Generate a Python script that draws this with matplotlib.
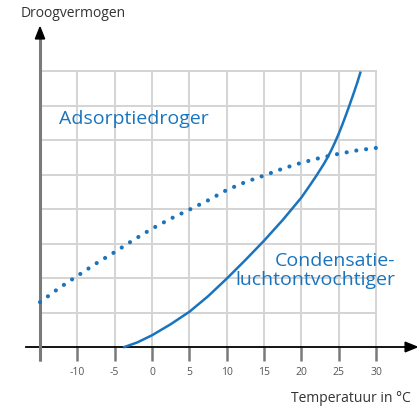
import matplotlib
matplotlib.use("Agg")
import matplotlib.pyplot as plt
from matplotlib.patches import Polygon

# ---- data ----
temp_ticks = [-10, -5, 0, 5, 10, 15, 20, 25, 30]
tick_labels = ["-10", "-5", "0", "5", "10", "15", "20", "25", "30"]

ads_T = [-15, -12.5, -10, -7.5, -5, -2.5, 0, 2.5, 5, 7.5, 10, 12.5, 15, 17.5, 20, 22.5, 25, 27.5, 30]
ads_V = [1.3, 1.7, 2.06, 2.42, 2.75, 3.1, 3.43, 3.72, 3.98, 4.25, 4.55, 4.78, 4.97, 5.17, 5.34, 5.48, 5.6, 5.7, 5.77]

cond_T = [-3.7, -2, 0, 2.5, 5, 7.5, 10, 12.5, 15, 17.5, 20, 21, 22, 23, 23.5, 24, 24.5, 25, 25.5, 26, 26.5, 27, 27.5, 27.9]
cond_V = [0.0, 0.13, 0.34, 0.66, 1.02, 1.47, 1.98, 2.52, 3.08, 3.68, 4.33, 4.64, 4.96, 5.3, 5.49, 5.7, 5.93, 6.18, 6.45, 6.74, 7.04, 7.35, 7.67, 7.95]

BLUE = "#1a74bd"
GRID = "#d4d4d4"
AXGRAY = "#7a7a7a"

plt.rcParams['font.family'] = ['Open Sans', 'DejaVu Sans']

fig = plt.figure(figsize=(4.17, 4.10), dpi=100)
ax = fig.add_axes([0, 0, 1, 1])
ax.set_xlim(-20.357, 35.49)
ax.set_ylim(-1.797, 10.087)
ax.axis("off")

# grid
for t in temp_ticks:
    ax.plot([t, t], [0, 8], color=GRID, lw=1.4, zorder=1)
for v in range(1, 9):
    ax.plot([-15, 30], [v, v], color=GRID, lw=1.4, zorder=1)

# tick marks
for t in [-15] + temp_ticks:
    ax.plot([t, t], [-0.4, 0], color=AXGRAY, lw=1.8, zorder=2, solid_capstyle='butt')

# x axis
ax.plot([-16.9, 34.3], [0, 0], color="black", lw=1.3, zorder=3)
ax.add_patch(Polygon([[35.49, 0], [33.9, 0.14], [33.9, -0.14]], closed=True,
                     color="black", zorder=4))
# y axis
ax.plot([-15, -15], [-0.4, 8.95], color=AXGRAY, lw=2.2, zorder=3, solid_capstyle='butt')
ax.add_patch(Polygon([[-15, 9.27], [-15.62, 8.93], [-14.38, 8.93]], closed=True,
                     color="black", zorder=4))

# curves
ax.plot(ads_T, ads_V, color=BLUE, lw=3.0, linestyle=(0, (0.01, 2.35)),
        dash_capstyle='round', zorder=5)
ax.plot(cond_T, cond_V, color=BLUE, lw=1.8, zorder=5, solid_joinstyle='round')

# tick labels
for t, lab in zip(temp_ticks, tick_labels):
    ax.text(t, -0.72, lab, ha="center", va="center", fontsize=7.5, color="#555555")

# labels
ax.text(-17.6, 9.7, "Droogvermogen", ha="left", va="center", fontsize=10, color="#333333")
ax.text(18.6, -1.45, "Temperatuur in °C", ha="left", va="center", fontsize=10, color="#333333")
ax.text(-12.5, 6.65, "Adsorptiedroger", ha="left", va="center", fontsize=14, color=BLUE)
ax.text(32.6, 2.25, "Condensatie-\nluchtontvochtiger", ha="right", va="center",
        fontsize=14, color=BLUE, linespacing=1.05, multialignment="right")

fig.savefig("out.png", dpi=100)
